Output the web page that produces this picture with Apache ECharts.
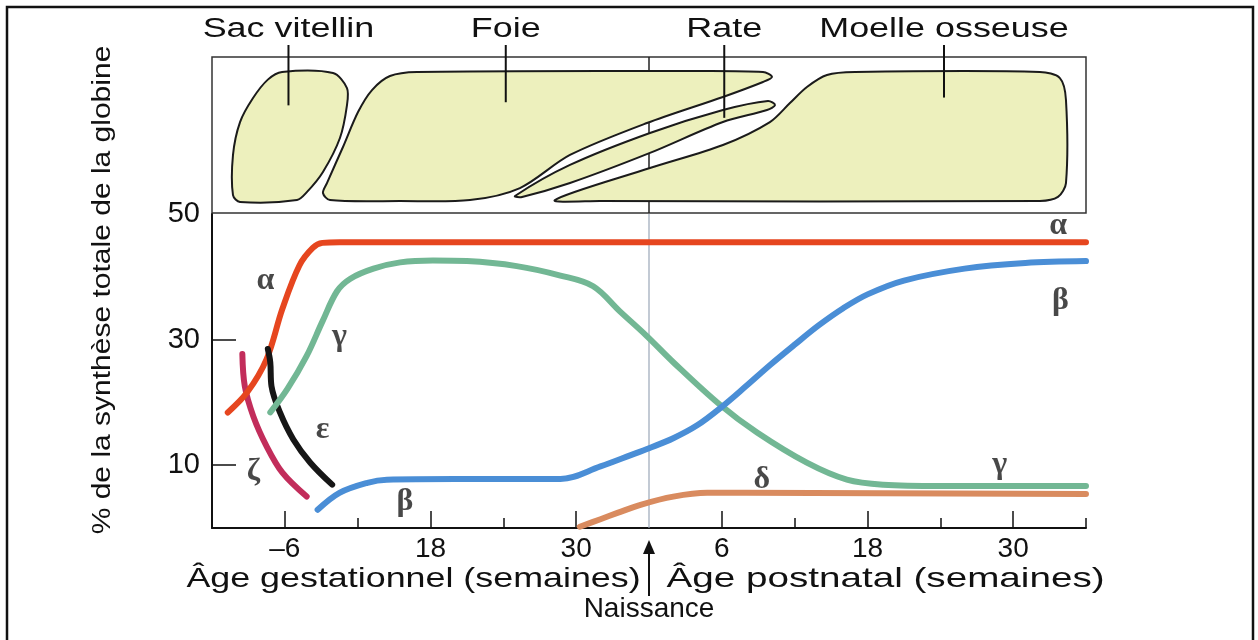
<!DOCTYPE html>
<html><head><meta charset="utf-8">
<script src="https://cdn.jsdelivr.net/npm/echarts@6/dist/echarts.min.js"></script>
<style>html,body{margin:0;padding:0;background:#fff}#c{width:1258px;height:640px}</style>
</head><body><div id="c"></div>
<script>
// ---- data (x = weeks since conception, birth = 36; y = % of total globin synthesis) ----
const alpha   = [[1.3,18.4],[2.9,21.6],[4.5,26.9],[5.8,34.9],[7.2,41.8],[8.3,44.6],[9.1,45.4],[10.5,45.5],[72,45.5]];
const gamma   = [[4.8,18.4],[6.2,22.1],[7.8,27.4],[9.1,32.9],[10.3,37.7],[11.4,39.7],[13.3,41.3],[15.5,42.3],[18.2,42.6],[21.0,42.5],[25.1,41.7],[28.7,40.2],[31.4,38.5],[33.6,34.5],[35.8,30.6],[38.0,26.4],[41.8,19.7],[44.9,15.2],[49.0,10.4],[52.3,7.7],[55.3,6.9],[60,6.7],[72,6.7]];
const beta    = [[8.7,2.9],[10.5,5.6],[12.8,7.2],[14.4,7.7],[20,7.8],[28.7,7.8],[32.0,9.8],[34.5,11.6],[36.0,12.7],[38.0,14.3],[40.0,16.4],[42.0,19.3],[44.0,22.6],[46.0,26.0],[48.0,29.2],[50.0,32.3],[52.0,35.0],[54.0,37.2],[57.0,39.4],[62.0,41.3],[67.0,42.2],[72,42.5]];
const delta   = [[30.3,0.2],[32.0,1.4],[33.4,2.4],[35.3,3.7],[38.0,5.0],[40.8,5.6],[44,5.6],[72,5.4]];
const epsilon = [[4.6,28.5],[4.8,26.4],[4.9,22.6],[5.6,18.4],[6.7,14.1],[8.1,10.4],[9.9,6.9]];
const zeta    = [[2.5,27.7],[2.7,22.6],[3.4,17.8],[4.5,13.0],[5.8,8.8],[7.8,5.0]];

// organ outlines (x = weeks, y = % of top panel height)
const yolkSac = [[5.77,90.4],[9.97,89.7],[11.12,80.1],[11.12,69.2],[10.54,48.1],[9.14,26.3],[7.83,13.5],[7.0,8.3],[2.31,7.1],[1.73,11.5],[1.73,37.2],[2.31,58.3],[3.38,73.7],[4.6,85.5]];
const liver   = [[9.14,12.8],[9.72,8.3],[15.49,7.7],[21.25,8.3],[25.37,16.0],[29.49,37.2],[35.83,57.7],[42.09,74.4],[45.39,84.0],[46.13,87.2],[45.39,90.4],[38.55,91.0],[16.89,90.4],[14.66,87.8],[13.18,78.8],[12.03,64.7],[10.79,42.3],[9.47,19.2]];
const spleen  = [[24.96,10.9],[29.49,30.8],[36.08,51.3],[42.09,66.0],[45.8,71.8],[46.38,69.2],[45.72,66.0],[42.09,58.3],[36.08,38.5],[29.49,19.2],[25.54,10.3]];
const marrow  = [[28.25,8.3],[36.08,28.8],[42.09,43.6],[45.96,58.3],[47.61,70.5],[49.01,80.8],[50.66,88.5],[52.97,90.4],[68.2,90.4],[69.85,86.5],[70.35,72.4],[70.35,19.2],[69.69,10.3],[68.2,7.7],[31.96,7.7]];

// axis ticks / labels
const xTickValues  = [6,18,30,42,54,66];
const xTickLabels  = ['–6','18','30','6','18','30'];
const xMinorTicks  = [12,24,48,60,72];
const yLabelValues = [10,30,50];
const yTickValues  = [10,30];
const birthWeek = 36;

// text annotations
const greekText  = ['α','α','γ','γ','ε','ζ','β','β','δ'];
const greekAt    = [[4.4,39.3],[69.7,48.1],[10.5,30.4],[64.9,10.1],[9.1,15.7],[3.4,9.0],[15.9,4.2],[69.9,36.2],[45.3,7.7]];
const organNames = ['Sac vitellin','Foie','Rate','Moelle osseuse'];
const organAt    = [[6.3,69],[24.2,71],[42.2,61],[60.3,74]];

const chart = echarts.init(document.getElementById('c'));
const SANS = 'Liberation Sans, Arial, sans-serif';

function curve(name, data, color){
  return {name, type:'line', xAxisIndex:0, yAxisIndex:0, data, smooth:0.35,
    symbol:'none', silent:true, z:3,
    lineStyle:{color, width:6, cap:'round', join:'round'}};
}
function organ(name, pts){
  return {name, type:'custom', xAxisIndex:1, yAxisIndex:1, coordinateSystem:'cartesian2d',
    data:[pts[0]], z:3, silent:true, clip:false,
    renderItem:(params, api)=>({type:'polygon',
      shape:{points: pts.map(p=>api.coord(p)), smooth:0.3},
      style:{fill:'#edf0bd', stroke:'#1b1b1b', lineWidth:2}})};
}
const labMap = {}; xTickValues.forEach((v,i)=>labMap[v]=xTickLabels[i]);

chart.setOption({
  animation:false,
  backgroundColor:'#fff',
  grid:[
    {left:212, right:172, top:214, bottom:112},
    {left:212, right:172, top:57, height:156, show:true, borderColor:'#333', borderWidth:1.5, backgroundColor:'transparent'}
  ],
  xAxis:[
    {type:'value', gridIndex:0, min:0, max:72, interval:6, position:'bottom',
     axisLine:{lineStyle:{color:'#111', width:2}},
     axisTick:{inside:true, length:17, customValues:xTickValues, lineStyle:{color:'#111', width:1.5}},
     axisLabel:{customValues:xTickValues, formatter:v=>labMap[v]||'', fontFamily:SANS, fontSize:28, color:'#111', margin:7},
     splitLine:{show:false}},
    {type:'value', gridIndex:1, min:0, max:72, show:false},
    {type:'value', gridIndex:0, min:0, max:72, interval:6, position:'bottom',
     axisLine:{show:false},
     axisTick:{inside:true, length:10, customValues:xMinorTicks, lineStyle:{color:'#111', width:1.5}},
     axisLabel:{show:false}, splitLine:{show:false}}
  ],
  yAxis:[
    {type:'value', gridIndex:0, min:0, max:50, interval:10,
     axisLine:{show:true, lineStyle:{color:'#111', width:2}},
     axisTick:{show:true, inside:true, length:24, customValues:yTickValues, lineStyle:{color:'#111', width:1.5}},
     axisLabel:{customValues:yLabelValues, fontFamily:SANS, fontSize:29, color:'#111', margin:12},
     splitLine:{show:false}},
    {type:'value', gridIndex:1, min:0, max:100, show:false}
  ],
  series:[
    {type:'line', xAxisIndex:0, yAxisIndex:0, data:[[birthWeek,0],[birthWeek,50]], symbol:'none', silent:true, z:2,
     lineStyle:{color:'#9aa7b8', width:1.2}},
    {type:'line', xAxisIndex:1, yAxisIndex:1, data:[[birthWeek,0],[birthWeek,100]], symbol:'none', silent:true, z:2,
     lineStyle:{color:'#222', width:1.5}},
    organ('Sac vitellin', yolkSac),
    organ('Foie', liver),
    organ('Rate', spleen),
    organ('Moelle osseuse', marrow),
    curve('ζ', zeta, '#c22d5b'),
    curve('α', alpha, '#e6461f'),
    curve('ε', epsilon, '#161616'),
    curve('γ', gamma, '#72b794'),
    curve('β', beta, '#4a8ed6'),
    curve('δ', delta, '#d98b5f'),
    {type:'scatter', xAxisIndex:0, yAxisIndex:0, symbolSize:1, silent:true, z:5,
     itemStyle:{color:'transparent'},
     data: greekAt.map((p,i)=>[p[0],p[1],greekText[i]]),
     label:{show:true, position:'inside', formatter:p=>p.value[2], fontFamily:'Liberation Serif, DejaVu Serif, serif',
            fontSize:32, fontWeight:'bold', color:'#1a1a1a'}}
  ]
});

// annotations placed through the axes' own scales
const px = (g, x, y) => chart.convertToPixel({gridIndex:g}, [x, y]);
const bx = px(0, birthWeek, 0)[0];
const gfx = [
  {type:'rect', shape:{x:7, y:7, width:1246, height:680}, style:{fill:'none', stroke:'#111', lineWidth:2.5}, z:10},
  {type:'text', x:103, y:290, rotation:Math.PI/2, scaleX:1.2,
   style:{text:'% de la synthèse totale de la globine', font:'25px '+SANS, fill:'#111', align:'center', verticalAlign:'middle'}},
  {type:'text', x:px(0,18,0)[0]-17, y:579, scaleX:1.28,
   style:{text:'Âge gestationnel (semaines)', font:'28px '+SANS, fill:'#111', align:'center', verticalAlign:'middle'}},
  {type:'text', x:px(0,54,0)[0]+18, y:579, scaleX:1.38,
   style:{text:'Âge postnatal (semaines)', font:'28px '+SANS, fill:'#111', align:'center', verticalAlign:'middle'}},
  {type:'text', x:bx, y:609,
   style:{text:'Naissance', font:'28px '+SANS, fill:'#111', align:'center', verticalAlign:'middle'}},
  {type:'line', shape:{x1:bx, y1:596, x2:bx, y2:550}, style:{stroke:'#111', lineWidth:2}},
  {type:'polygon', shape:{points:[[bx,540],[bx-6,554],[bx+6,554]]}, style:{fill:'#111'}}
];
organNames.forEach((n,i)=>{
  const p = px(1, organAt[i][0], organAt[i][1]);
  gfx.push({type:'text', x:p[0], y:30, scaleX:1.33,
    style:{text:n, font:'27px '+SANS, fill:'#111', align:'center', verticalAlign:'middle'}, z:6});
  gfx.push({type:'line', shape:{x1:p[0], y1:45, x2:p[0], y2:p[1]}, style:{stroke:'#111', lineWidth:2}, z:6});
});
chart.setOption({graphic:gfx});
</script></body></html>
